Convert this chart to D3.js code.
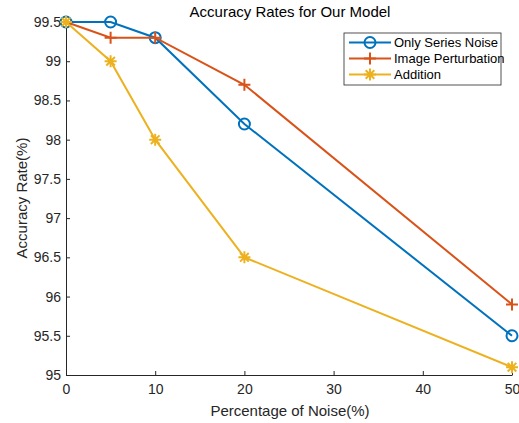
<!DOCTYPE html>
<html>
<head>
<meta charset="utf-8">
<script src="https://cdn.jsdelivr.net/npm/d3@7"></script>
<style>
  body { margin: 0; background: #fff; }
  text { font-family: "Liberation Sans", Arial, sans-serif; }
</style>
</head>
<body>
<div id="chart"></div>
<script>
const noise = [0, 5, 10, 20, 50];
const onlySeries = [99.5, 99.5, 99.3, 98.2, 95.5];
const imagePert = [99.5, 99.3, 99.3, 98.7, 95.9];
const addition = [99.5, 99.0, 98.0, 96.5, 95.1];
const xTicks = [0, 10, 20, 30, 40, 50];
const yTicks = [95, 95.5, 96, 96.5, 97, 97.5, 98, 98.5, 99, 99.5];
const seriesNames = ["Only Series Noise", "Image Perturbation", "Addition"];

const colors = ["#0072BD", "#D95319", "#EDB120"];
const markers = ["circle", "plus", "star"];

const W = 519, H = 423;
const margin = { top: 22, right: 7, bottom: 48, left: 66 };

const svg = d3.select("#chart").append("svg").attr("width", W).attr("height", H);

const x = d3.scaleLinear().domain([0, 50]).range([margin.left, W - margin.right]);
const y = d3.scaleLinear().domain([95, 99.5]).range([H - margin.bottom, margin.top]);

// axes
svg.append("g")
  .attr("transform", `translate(0,${y(95)})`)
  .call(d3.axisBottom(x).tickValues(xTicks).tickSizeInner(-4).tickSizeOuter(0).tickPadding(9))
  .call(g => g.selectAll("path,line").attr("stroke", "#262626"))
  .call(g => g.selectAll("text").attr("fill", "#262626").attr("font-size", 14));

svg.append("g")
  .attr("transform", `translate(${x(0)},0)`)
  .call(d3.axisLeft(y).tickValues(yTicks).tickFormat(d3.format("~g")).tickSizeInner(-4).tickSizeOuter(0).tickPadding(5))
  .call(g => g.selectAll("path,line").attr("stroke", "#262626"))
  .call(g => g.selectAll("text").attr("fill", "#262626").attr("font-size", 14));

// title & labels
svg.append("text").attr("x", 290).attr("y", 17).attr("text-anchor", "middle")
  .attr("font-size", 15).attr("fill", "#000").text("Accuracy Rates for Our Model");
svg.append("text").attr("x", 290).attr("y", 416).attr("text-anchor", "middle")
  .attr("font-size", 15).attr("fill", "#262626").text("Percentage of Noise(%)");
svg.append("text").attr("transform", "translate(27,198) rotate(-90)").attr("text-anchor", "middle")
  .attr("font-size", 15).attr("fill", "#262626").text("Accuracy Rate(%)");

function drawMarker(g, type, color) {
  if (type === "circle") {
    g.append("circle").attr("r", 5.5).attr("fill", "none").attr("stroke", color).attr("stroke-width", 2);
  } else if (type === "plus") {
    g.append("path").attr("d", "M-6,0H6M0,-6V6").attr("stroke", color).attr("stroke-width", 2);
  } else {
    g.append("path").attr("d", "M-6,0H6M0,-6V6M-4.3,-4.3L4.3,4.3M-4.3,4.3L4.3,-4.3")
      .attr("stroke", color).attr("stroke-width", 2);
  }
}

const seriesData = [onlySeries, imagePert, addition];
const line = d3.line().x(d => x(d[0])).y(d => y(d[1]));

seriesData.forEach((vals, i) => {
  const pts = noise.map((n, j) => [n, vals[j]]);
  svg.append("path").datum(pts).attr("d", line).attr("fill", "none")
    .attr("stroke", colors[i]).attr("stroke-width", 2);
  pts.forEach(p => {
    const g = svg.append("g").attr("transform", `translate(${x(p[0])},${y(p[1])})`);
    drawMarker(g, markers[i], colors[i]);
  });
});

// legend
const lg = svg.append("g").attr("transform", "translate(344,33)");
lg.append("rect").attr("width", 157).attr("height", 52).attr("fill", "#fff").attr("stroke", "#262626").attr("stroke-width", 0.8);
seriesNames.forEach((name, i) => {
  const yy = 9.5 + i * 16;
  lg.append("line").attr("x1", 5).attr("x2", 47).attr("y1", yy).attr("y2", yy)
    .attr("stroke", colors[i]).attr("stroke-width", 2);
  const g = lg.append("g").attr("transform", `translate(26,${yy})`);
  drawMarker(g, markers[i], colors[i]);
  lg.append("text").attr("x", 50).attr("y", yy + 4.5).attr("font-size", 13).attr("fill", "#000").text(name);
});
</script>
</body>
</html>
